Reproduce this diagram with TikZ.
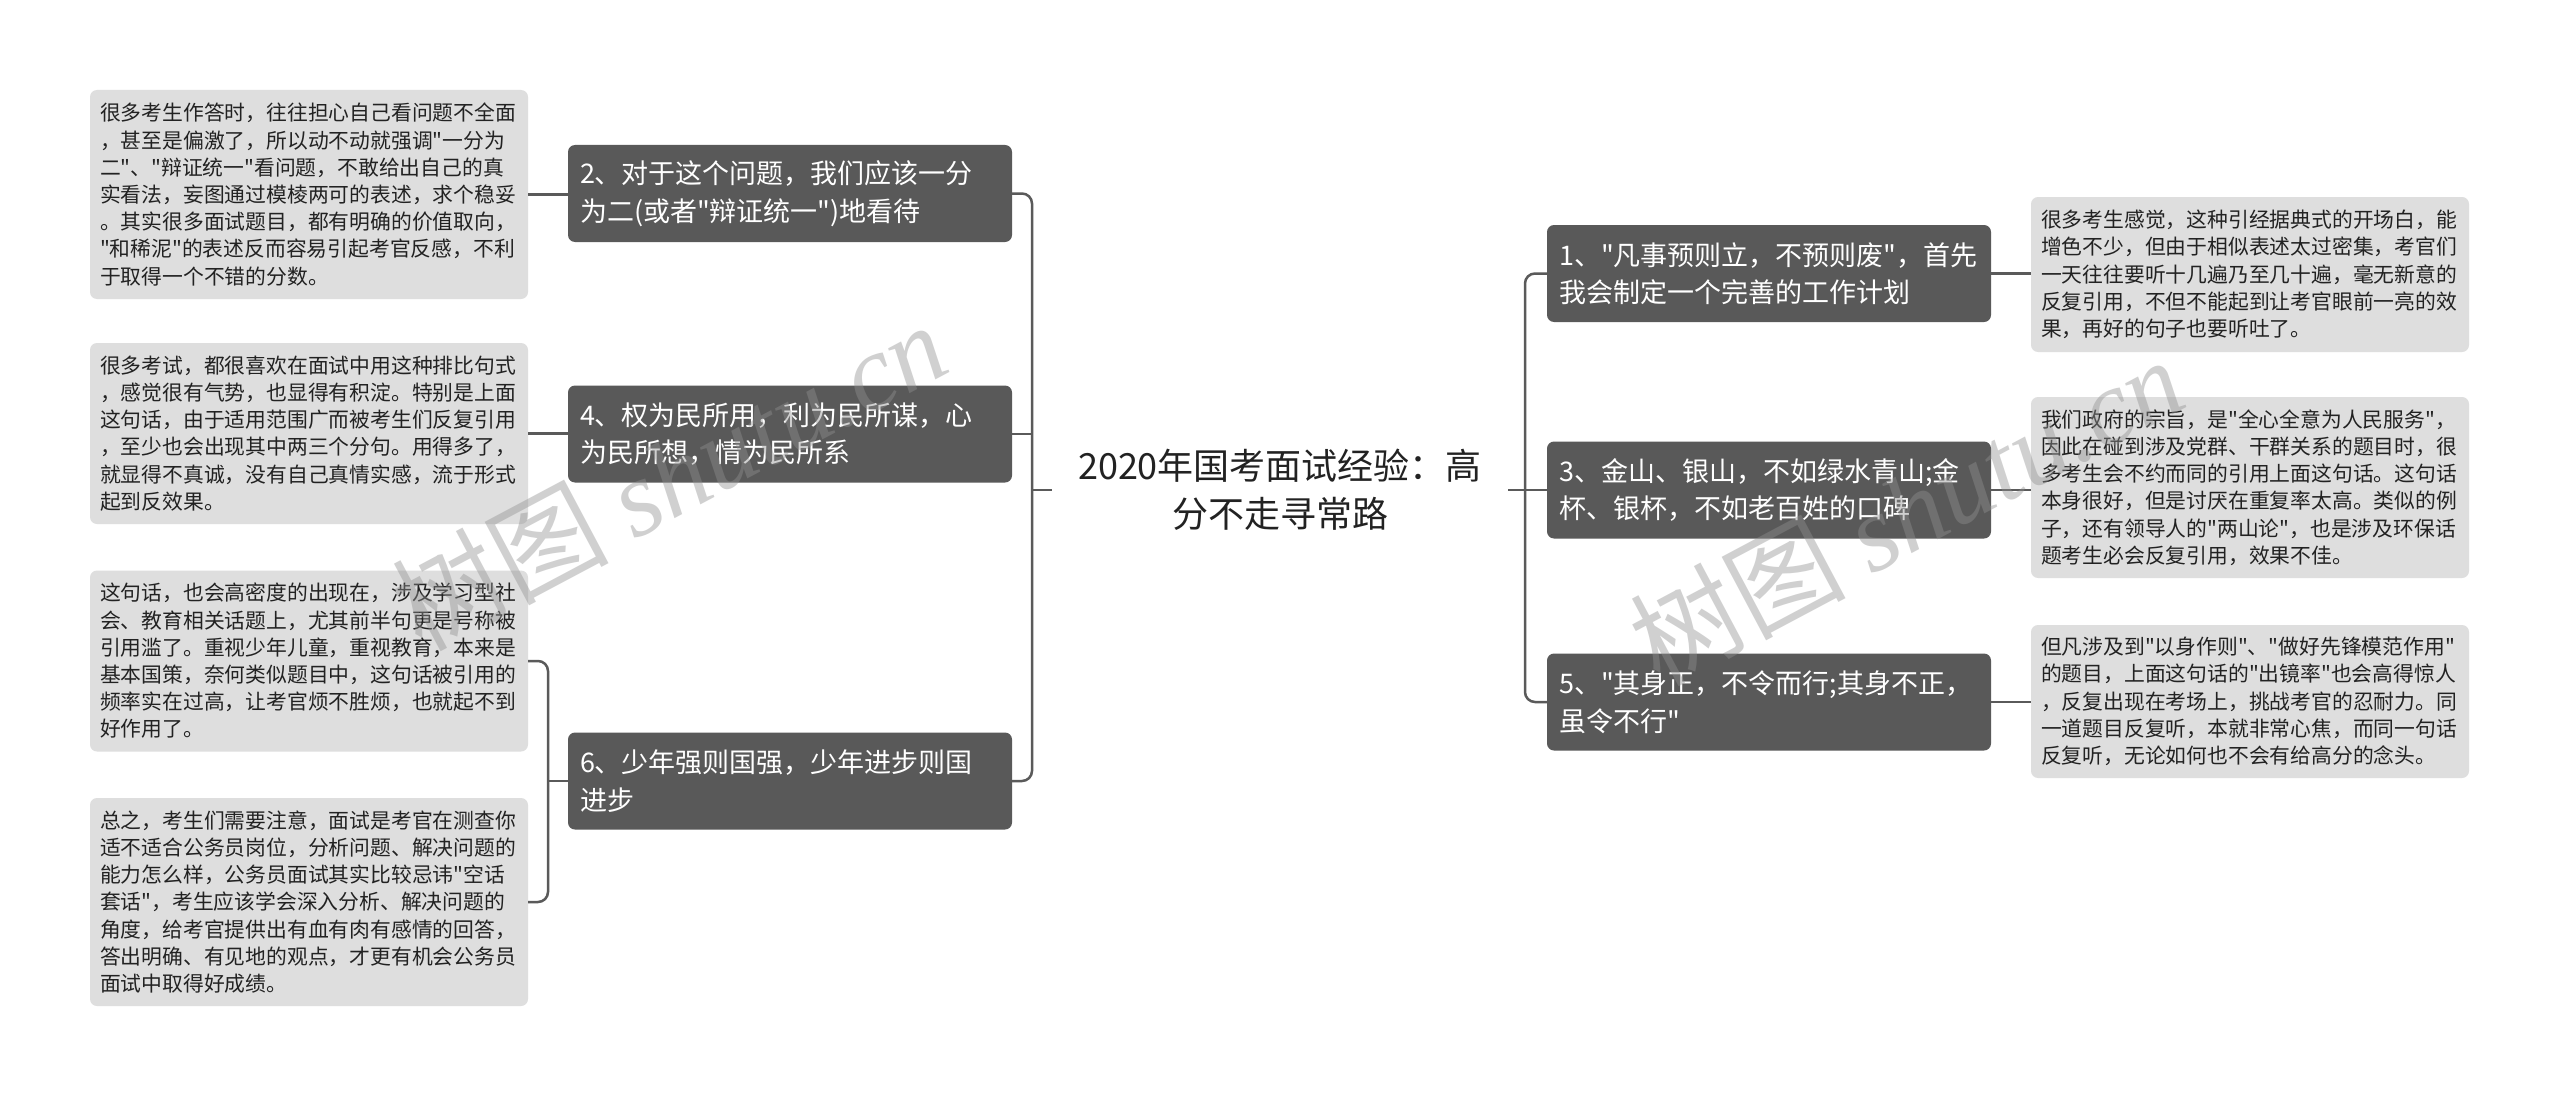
\documentclass[tikz,border=0pt]{standalone}
\usepackage{fontspec}
\newfontfamily\cjk{Noto Sans CJK SC}
\newfontfamily\wmfont{Liberation Serif}
\definecolor{boxdark}{HTML}{595959}
\definecolor{leafbg}{HTML}{DEDEDE}
\definecolor{linec}{HTML}{5A5A5A}
\definecolor{textc}{HTML}{222222}
\definecolor{wmc}{HTML}{909090}
\begin{document}
\begin{tikzpicture}[x=1pt,y=-1pt,
  branch/.style={fill=boxdark, rounded corners=7pt, text=white,
    font=\cjk\fontsize{27}{37.5}\selectfont, align=left, text width=420pt,
    inner xsep=12pt, inner ysep=0pt, minimum height=97pt},
  leaf/.style={fill=leafbg, rounded corners=7pt, text=textc,
    font=\cjk\fontsize{20.8}{27.2}\selectfont, align=left, text width=418pt,
    inner xsep=10pt, inner ysep=0pt},
  rootn/.style={font=\cjk\fontsize{36}{48}\selectfont, align=center, text=textc,
    text width=420pt, inner xsep=18pt, inner ysep=4pt},
  conn/.style={draw=linec, line width=2.5pt, rounded corners=10pt},
  wmark/.style={text=wmc, opacity=0.42, rotate=28, inner sep=0pt}
]
\useasboundingbox (0,0) rectangle (2560,1097);
\fill[white] (0,0) rectangle (2560,1097);

% root
\node[rootn] (root) at (1280,490) {2020年国考面试经验：高\\分不走寻常路};

% left branches
\node[branch] (L2) at (790,193.5) {2、对于这个问题，我们应该一分\\为二(或者"辩证统一")地看待};
\node[branch] (L4) at (790,434) {4、权为民所用，利为民所谋，心\\为民所想，情为民所系};
\node[branch] (L6) at (790,781) {6、少年强则国强，少年进步则国\\进步};

% right branches
\node[branch] (R1) at (1769,273.5) {1、"凡事预则立，不预则废"，首先\\我会制定一个完善的工作计划};
\node[branch] (R3) at (1769,490) {3、金山、银山，不如绿水青山;金\\杯、银杯，不如老百姓的口碑};
\node[branch] (R5) at (1769,702) {5、"其身正，不令而行;其身不正，\\虽令不行"};

% left leaves
\node[leaf, minimum height=209pt] (LL1) at (309,194.5) {很多考生作答时，往往担心自己看问题不全面\\，甚至是偏激了，所以动不动就强调"一分为\\二"、"辩证统一"看问题，不敢给出自己的真\\实看法，妄图通过模棱两可的表述，求个稳妥\\。其实很多面试题目，都有明确的价值取向，\\"和稀泥"的表述反而容易引起考官反感，不利\\于取得一个不错的分数。};
\node[leaf, minimum height=181pt] (LL2) at (309,433.5) {很多考试，都很喜欢在面试中用这种排比句式\\，感觉很有气势，也显得有积淀。特别是上面\\这句话，由于适用范围广而被考生们反复引用\\，至少也会出现其中两三个分句。用得多了，\\就显得不真诚，没有自己真情实感，流于形式\\起到反效果。};
\node[leaf, minimum height=181pt] (LL3) at (309,661) {这句话，也会高密度的出现在，涉及学习型社\\会、教育相关话题上，尤其前半句更是号称被\\引用滥了。重视少年儿童，重视教育，本来是\\基本国策，奈何类似题目中，这句话被引用的\\频率实在过高，让考官烦不胜烦，也就起不到\\好作用了。};
\node[leaf, minimum height=208pt] (LL4) at (309,902) {总之，考生们需要注意，面试是考官在测查你\\适不适合公务员岗位，分析问题、解决问题的\\能力怎么样，公务员面试其实比较忌讳"空话\\套话"，考生应该学会深入分析、解决问题的\\角度，给考官提供出有血有肉有感情的回答，\\答出明确、有见地的观点，才更有机会公务员\\面试中取得好成绩。};

% right leaves
\node[leaf, minimum height=155pt] (RL1) at (2250,274.5) {很多考生感觉，这种引经据典式的开场白，能\\增色不少，但由于相似表述太过密集，考官们\\一天往往要听十几遍乃至几十遍，毫无新意的\\反复引用，不但不能起到让考官眼前一亮的效\\果，再好的句子也要听吐了。};
\node[leaf, minimum height=181pt] (RL2) at (2250,487.5) {我们政府的宗旨，是"全心全意为人民服务"，\\因此在碰到涉及党群、干群关系的题目时，很\\多考生会不约而同的引用上面这句话。这句话\\本身很好，但是讨厌在重复率太高。类似的例\\子，还有领导人的"两山论"，也是涉及环保话\\题考生必会反复引用，效果不佳。};
\node[leaf, minimum height=153pt] (RL3) at (2250,701.5) {但凡涉及到"以身作则"、"做好先锋模范作用"\\的题目，上面这句话的"出镜率"也会高得惊人\\，反复出现在考场上，挑战考官的忍耐力。同\\一道题目反复听，本就非常心焦，而同一句话\\反复听，无论如何也不会有给高分的念头。};

% connector junctions
\coordinate (lbar) at (1032,490);
\coordinate (rbar) at (1525,490);
\coordinate (lb6) at (548,781);

% left tree
\draw[conn] (L2.east) -| (lbar) |- (L6.east);
\draw[conn] (L4.east) -- (L4.east -| lbar);
\draw[conn] (root.west) -- (lbar);
% right tree
\draw[conn] (R1.west) -| (rbar) |- (R5.west);
\draw[conn] (root.east) -- (R3.west);
% leaves
\draw[conn] (LL1.east) -- (LL1.east -| L2.west);
\draw[conn] (LL2.east) -- (LL2.east -| L4.west);
\draw[conn] (LL3.east) -| (lb6) |- (LL4.east);
\draw[conn] (L6.west) -- (lb6);
\draw[conn] (R1.east) -- (R1.east -| RL1.west);
\draw[conn] (R3.east) -- (R3.east -| RL2.west);
\draw[conn] (R5.east) -- (R5.east -| RL3.west);

% watermarks
\node[wmark] (wm1) at (669,475) {\cjk\fontsize{108}{108}\selectfont 树图 {\wmfont\itshape shutu.cn}};
\node[wmark] (wm2) at (1906,510) {\cjk\fontsize{108}{108}\selectfont 树图 {\wmfont\itshape shutu.cn}};
\end{tikzpicture}
\end{document}
